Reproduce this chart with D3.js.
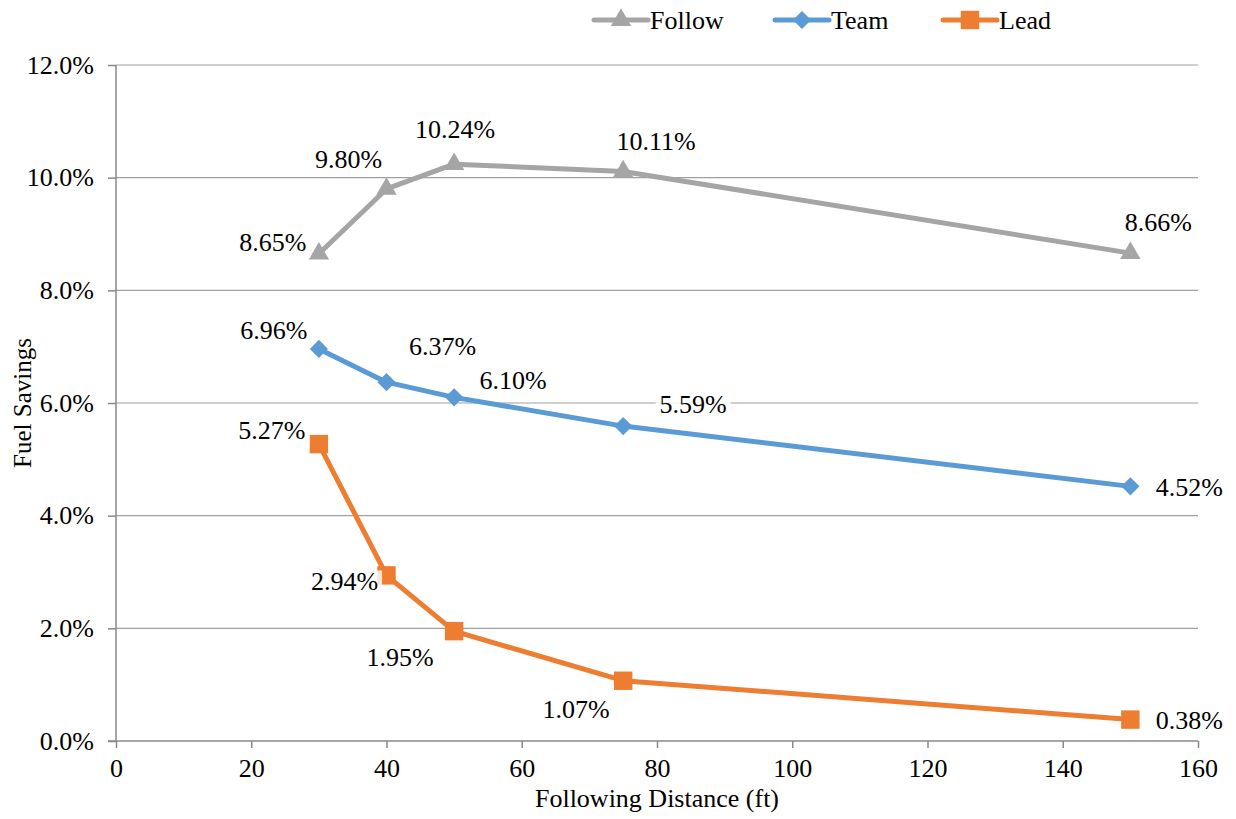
<!DOCTYPE html>
<html>
<head>
<meta charset="utf-8">
<script src="https://cdn.jsdelivr.net/npm/d3@7"></script>
<style>
  html, body { margin: 0; padding: 0; background: #fff; }
</style>
</head>
<body>
<svg id="chart" width="1236" height="819"></svg>
<script>
// Following distance (ft) for every test run
const distances = [30, 40, 50, 75, 150];

// Fuel savings (%) per truck position
const followSavings = [8.65, 9.80, 10.24, 10.11, 8.66];
const teamSavings   = [6.96, 6.37, 6.10, 5.59, 4.52];
const leadSavings   = [5.27, 2.94, 1.95, 1.07, 0.38];

const seriesNames = ["Follow", "Team", "Lead"];

const xTicks = [0, 20, 40, 60, 80, 100, 120, 140, 160];
const yTicks = [0, 2, 4, 6, 8, 10, 12];

const FONT = "Liberation Serif";
const FS = 26;

// Label offsets (dx, dy) relative to each point
const labelOffsets = {
  Follow: [[-46, -12], [-38, -30], [1, -35], [33, -31], [28, -31]],
  Team:   [[-45, -19], [56, -36], [59, -17], [70, -22], [59, 1]],
  Lead:   [[-47, -14], [-42, 6], [-54, 26], [-47, 28], [59, 0]]
};

// Diamond drawn as a square turned 45 degrees
const symbolDiamondSquare = {
  draw(context, size) {
    const r = Math.sqrt(size / 2);
    context.moveTo(0, -r);
    context.lineTo(r, 0);
    context.lineTo(0, r);
    context.lineTo(-r, 0);
    context.closePath();
  }
};

const styles = {
  Follow: { color: "#A5A5A5", marker: d3.symbolTriangle, size: 180 },
  Team:   { color: "#5B9BD5", marker: symbolDiamondSquare, size: 165 },
  Lead:   { color: "#ED7D31", marker: d3.symbolSquare, size: 340 }
};

const series = [
  { name: "Follow", values: followSavings },
  { name: "Team", values: teamSavings },
  { name: "Lead", values: leadSavings }
];

const svg = d3.select("#chart");
const margin = { left: 116, right: 38, top: 65, bottom: 78 };
const W = 1236, H = 819;

const x = d3.scaleLinear().domain([0, 160]).range([margin.left, W - margin.right]);
const y = d3.scaleLinear().domain([0, 12]).range([H - margin.bottom, margin.top]);

// Horizontal gridlines
svg.append("g")
  .selectAll("line")
  .data(yTicks.filter(t => t > 0))
  .join("line")
  .attr("x1", x(0)).attr("x2", x(160))
  .attr("y1", d => y(d)).attr("y2", d => y(d))
  .attr("stroke", "#A0A0A0").attr("stroke-width", 1.2);

// Y axis
const yAxis = svg.append("g")
  .attr("transform", `translate(${x(0)},0)`)
  .call(d3.axisLeft(y).tickValues(yTicks).tickSize(8).tickPadding(14)
    .tickFormat(d => d.toFixed(1) + "%"));
// X axis
const xAxis = svg.append("g")
  .attr("transform", `translate(0,${y(0)})`)
  .call(d3.axisBottom(x).tickValues(xTicks).tickSize(7).tickPadding(11));

[yAxis, xAxis].forEach(g => {
  g.attr("font-family", FONT).attr("font-size", FS);
  g.select(".domain").attr("stroke", "#888").attr("stroke-width", 1.5);
  g.selectAll(".tick line").attr("stroke", "#888").attr("stroke-width", 1.5);
  g.selectAll(".tick text")
    .attr("fill", "#000")
    .attr("font-family", FONT)
    .attr("font-size", FS);
});
yAxis.select(".domain").attr("d", `M0,${y(12)}V${y(0)}`);
xAxis.select(".domain").attr("d", `M${x(0) - 8},0H${x(160)}`);

// Axis titles
svg.append("text")
  .attr("x", (x(0) + x(160)) / 2).attr("y", 807)
  .attr("text-anchor", "middle")
  .attr("font-family", FONT)
  .attr("font-size", FS)
  .text("Following Distance (ft)");
svg.append("text")
  .attr("transform", `translate(31,${(y(0) + y(12)) / 2}) rotate(-90)`)
  .attr("text-anchor", "middle")
  .attr("font-family", FONT)
  .attr("font-size", 25)
  .text("Fuel Savings");

const line = d3.line().x(d => x(d[0])).y(d => y(d[1]));

// Lines and markers
series.forEach(s => {
  const st = styles[s.name];
  const pts = distances.map((d, i) => [d, s.values[i]]);
  svg.append("path")
    .datum(pts)
    .attr("d", line)
    .attr("fill", "none")
    .attr("stroke", st.color)
    .attr("stroke-width", 5)
    .attr("stroke-linejoin", "round")
    .attr("stroke-linecap", "round");
  svg.append("g")
    .selectAll("path")
    .data(pts)
    .join("path")
    .attr("transform", d => `translate(${x(d[0])},${y(d[1])})`)
    .attr("d", d3.symbol().type(st.marker).size(st.size))
    .attr("fill", st.color);
});

// Data labels with white backing
series.forEach(s => {
  const offs = labelOffsets[s.name];
  distances.forEach((d, i) => {
    const g = svg.append("g");
    const t = g.append("text")
      .attr("x", x(d) + offs[i][0])
      .attr("y", y(s.values[i]) + offs[i][1])
      .attr("text-anchor", "middle")
      .attr("dy", "0.35em")
      .attr("font-family", FONT)
      .attr("font-size", FS)
      .text(s.values[i].toFixed(2) + "%");
    const b = t.node().getBBox();
    g.insert("rect", "text")
      .attr("x", b.x - 4).attr("y", b.y + 3)
      .attr("width", b.width + 8).attr("height", b.height - 2)
      .attr("fill", "#fff").attr("fill-opacity", 0.8);
  });
});

// Legend
const legendItems = [
  { name: "Follow", x0: 594 },
  { name: "Team", x0: 775 },
  { name: "Lead", x0: 943 }
];
const ly = 20;
legendItems.forEach(it => {
  const st = styles[it.name];
  const g = svg.append("g");
  g.append("line")
    .attr("x1", it.x0).attr("x2", it.x0 + 54)
    .attr("y1", ly).attr("y2", ly)
    .attr("stroke", st.color).attr("stroke-width", 5)
    .attr("stroke-linecap", "round");
  g.append("path")
    .attr("transform", `translate(${it.x0 + 27},${ly})`)
    .attr("d", d3.symbol().type(st.marker).size(st.size))
    .attr("fill", st.color);
  g.append("text")
    .attr("x", it.x0 + 56).attr("y", ly)
    .attr("dy", "0.35em")
    .attr("font-family", FONT)
    .attr("font-size", FS)
    .text(it.name);
});
</script>
</body>
</html>
